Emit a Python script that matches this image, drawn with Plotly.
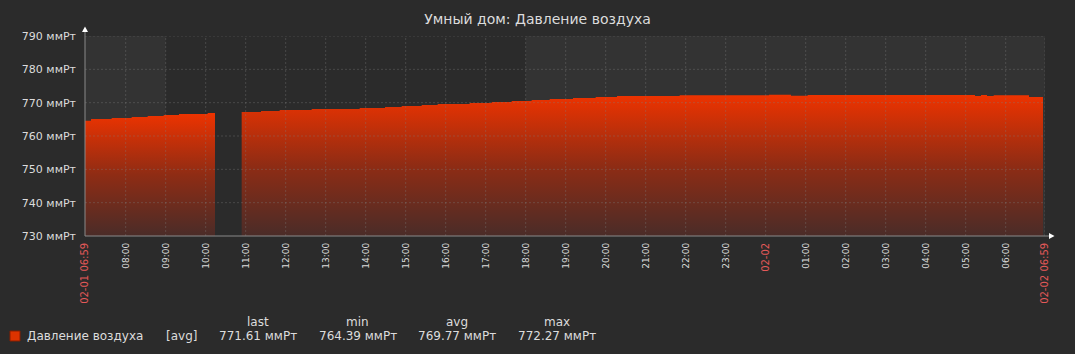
import plotly.graph_objects as go

# ---------------- data ----------------
range_start = "2024-02-01 06:59"
range_end = "2024-02-02 06:59"

seg1_times = ["2024-02-01 06:59", "2024-02-01 07:08", "2024-02-01 07:39", "2024-02-01 08:09",
              "2024-02-01 08:33", "2024-02-01 08:57", "2024-02-01 09:20", "2024-02-01 10:03",
              "2024-02-01 10:14"]
seg1_values = [764.6, 765.1, 765.4, 765.7, 766.0, 766.3, 766.6, 766.9, 766.9]

seg2_times = ["2024-02-01 10:54", "2024-02-01 11:23", "2024-02-01 11:51", "2024-02-01 12:39",
              "2024-02-01 13:51", "2024-02-01 14:29", "2024-02-01 14:54", "2024-02-01 15:24",
              "2024-02-01 15:48", "2024-02-01 16:36", "2024-02-01 17:09", "2024-02-01 17:39",
              "2024-02-01 18:09", "2024-02-01 18:36", "2024-02-01 19:11", "2024-02-01 19:45",
              "2024-02-01 20:17", "2024-02-01 21:51", "2024-02-02 00:05", "2024-02-02 00:38",
              "2024-02-02 01:03", "2024-02-02 05:14", "2024-02-02 05:23", "2024-02-02 05:32",
              "2024-02-02 05:42", "2024-02-02 06:35", "2024-02-02 06:56"]
seg2_values = [767.2, 767.5, 767.8, 768.1, 768.4, 768.7, 769.0, 769.3, 769.6, 769.9, 770.2,
               770.5, 770.8, 771.1, 771.4, 771.7, 772.0, 772.2, 772.4, 772.1, 772.27, 772.0,
               772.27, 772.0, 772.2, 771.7, 771.7]

y_tick_values = [730, 740, 750, 760, 770, 780, 790]
y_unit = "ммРт"

x_tick_times = ["2024-02-01 06:59", "2024-02-01 08:00", "2024-02-01 09:00", "2024-02-01 10:00",
                "2024-02-01 11:00", "2024-02-01 12:00", "2024-02-01 13:00", "2024-02-01 14:00",
                "2024-02-01 15:00", "2024-02-01 16:00", "2024-02-01 17:00", "2024-02-01 18:00",
                "2024-02-01 19:00", "2024-02-01 20:00", "2024-02-01 21:00", "2024-02-01 22:00",
                "2024-02-01 23:00", "2024-02-02 00:00", "2024-02-02 01:00", "2024-02-02 02:00",
                "2024-02-02 03:00", "2024-02-02 04:00", "2024-02-02 05:00", "2024-02-02 06:00",
                "2024-02-02 06:59"]
x_tick_labels = ["02-01 06:59", "08:00", "09:00", "10:00", "11:00", "12:00", "13:00", "14:00",
                 "15:00", "16:00", "17:00", "18:00", "19:00", "20:00", "21:00", "22:00", "23:00",
                 "02-02", "01:00", "02:00", "03:00", "04:00", "05:00", "06:00", "02-02 06:59"]
x_tick_red = [True] + [False] * 16 + [True] + [False] * 6 + [True]

work_start = "2024-02-01 09:00"
work_end = "2024-02-01 18:00"

series_name = "Давление воздуха"
legend_func = "[avg]"
stat_headers = ["last", "min", "avg", "max"]
stat_values = ["771.61 ммРт", "764.39 ммРт", "769.77 ммРт", "772.27 ммРт"]

# ---------------- style ----------------
BG = "#2b2b2b"
PLOT_BG = "#333333"
TEXT = "#dcdcdc"
RED = "#e45959"
GRID = "rgba(128,128,128,0.35)"
AXIS = "#8a8a8a"
FONT = "DejaVu Sans"

W, H = 1075, 354
L, R, T, B = 85, 1045, 36, 236


def px(xp):
    return (xp - L) / (R - L)


def py(yp):
    return (B - yp) / (B - T)


grad = dict(type="vertical", colorscale=[[0, "#4a2c28"], [0.5, "#8f2c14"], [1, "#ee3300"]])

fig = go.Figure()
for times, vals in [(seg1_times, seg1_values), (seg2_times, seg2_values)]:
    fig.add_trace(go.Scatter(x=[times[0], times[-1]], y=[y_tick_values[0]] * 2, mode="lines",
                             line=dict(width=0), showlegend=False, hoverinfo="skip"))
    fig.add_trace(go.Scatter(x=times, y=vals, mode="lines", line=dict(width=0, shape="hv"),
                             fill="tonexty", fillgradient=grad, fillcolor="#dd3300",
                             showlegend=False, name=series_name))

ticktext = []
for lab, red in zip(x_tick_labels, x_tick_red):
    if red:
        ticktext.append(f'<span style="fill:{RED};font-size:10px">{lab}</span>')
    else:
        ticktext.append(lab)

fig.update_xaxes(type="date", range=[range_start, range_end], tickvals=x_tick_times,
                 ticktext=ticktext, tickangle=-90, tickfont=dict(size=9, color=TEXT, family=FONT),
                 showgrid=False, showline=False, zeroline=False, ticks="", ticklabelstandoff=4)
fig.update_yaxes(range=[730, 790], tickvals=y_tick_values,
                 ticktext=[f"{v} {y_unit}" for v in y_tick_values],
                 tickfont=dict(size=11, color=TEXT, family=FONT),
                 showgrid=False, showline=False, zeroline=False, ticks="", ticklabelstandoff=8)

shapes = [
    dict(type="rect", xref="x", yref="paper", x0=work_start, x1=work_end, y0=0, y1=1,
         fillcolor=BG, line=dict(width=0), layer="below"),
]
# dashed grid drawn over the fill (as Zabbix does)
for t in x_tick_times[1:]:
    shapes.append(dict(type="line", xref="x", yref="paper", x0=t, x1=t, y0=0, y1=1,
                       line=dict(color=GRID, width=1, dash="2px,2px"), layer="above"))
for v in y_tick_values[1:]:
    shapes.append(dict(type="line", xref="paper", yref="y", x0=0, x1=1, y0=v, y1=v,
                       line=dict(color=GRID, width=1, dash="2px,2px"), layer="above"))
shapes += [
    # axis lines
    dict(type="line", xref="paper", yref="paper", x0=px(L), x1=px(L), y0=py(B), y1=py(30),
         line=dict(color=AXIS, width=1), layer="above"),
    dict(type="line", xref="paper", yref="paper", x0=px(L), x1=px(1050), y0=py(B), y1=py(B),
         line=dict(color=AXIS, width=1), layer="above"),
    # arrows
    dict(type="path", xref="paper", yref="paper",
         path=f"M {px(82)} {py(32)} L {px(88)} {py(32)} L {px(85)} {py(26.5)} Z",
         fillcolor="#ffffff", line=dict(width=0)),
    dict(type="path", xref="paper", yref="paper",
         path=f"M {px(1049)} {py(233)} L {px(1049)} {py(239)} L {px(1054.5)} {py(236)} Z",
         fillcolor="#ffffff", line=dict(width=0)),
    # legend square
    dict(type="rect", xref="paper", yref="paper", x0=px(10), x1=px(20), y0=py(341), y1=py(331),
         fillcolor="#dd3300", line=dict(color="#8a1f00", width=1)),
]

ann = [
    dict(text=series_name, x=px(25), y=py(336), xanchor="left", yanchor="middle"),
    dict(text=legend_func, x=px(164), y=py(336), xanchor="left", yanchor="middle"),
]
centers = [257.5, 357.5, 457, 557]
for c, h, v in zip(centers, stat_headers, stat_values):
    ann.append(dict(text=h, x=px(c), y=py(322), xanchor="center", yanchor="middle"))
    ann.append(dict(text=v, x=px(c), y=py(336), xanchor="center", yanchor="middle"))
for a in ann:
    a.update(xref="paper", yref="paper", showarrow=False,
             font=dict(size=12, color=TEXT, family=FONT))

fig.update_layout(
    width=W, height=H, paper_bgcolor=BG, plot_bgcolor=PLOT_BG,
    margin=dict(l=L, r=W - R, t=T, b=H - B, autoexpand=False),
    title=dict(text="Умный дом: Давление воздуха", x=0.5, xanchor="center",
               y=1 - 19 / H, yanchor="middle", font=dict(size=14, color=TEXT, family=FONT)),
    font=dict(family=FONT, color=TEXT),
    shapes=shapes, annotations=ann, showlegend=False, hovermode=False,
)

fig.write_html("out.html")
